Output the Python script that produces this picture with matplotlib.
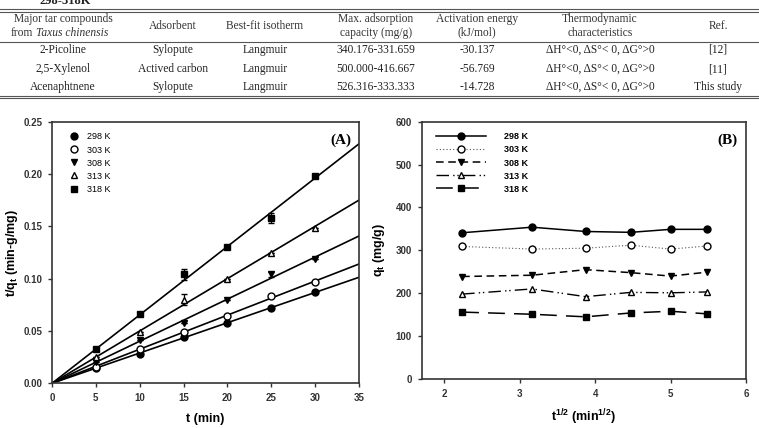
import numpy as np
import matplotlib.pyplot as plt
from matplotlib.lines import Line2D

plt.rcParams['mathtext.fontset'] = 'custom'
plt.rcParams['mathtext.rm'] = 'Liberation Sans:bold'
plt.rcParams['mathtext.default'] = 'rm'

# ---- table data ----
headers = ['Adsorbent', 'Best-fit isotherm',
           'Max. adsorption\ncapacity (mg/g)', 'Activation energy\n(kJ/mol)',
           'Thermodynamic\ncharacteristics', 'Ref.']
rows = [['2-Picoline', 'Sylopute', 'Langmuir', '340.176-331.659', '-30.137',
         'ΔH°<0, ΔS°< 0, ΔG°>0', '[12]'],
        ['2,5-Xylenol', 'Actived carbon', 'Langmuir', '500.000-416.667', '-56.769',
         'ΔH°<0, ΔS°< 0, ΔG°>0', '[11]'],
        ['Acenaphtnene', 'Sylopute', 'Langmuir', '526.316-333.333', '-14.728',
         'ΔH°<0, ΔS°< 0, ΔG°>0', 'This study']]
col_x = [63, 173, 265, 376, 477, 600, 718]

# ---- chart data ----
temps = ['298 K', '303 K', '308 K', '313 K', '318 K']
t = np.array([5, 10, 15, 20, 25, 30])
t_over_q = [
    [0.015, 0.028, 0.044, 0.058, 0.072, 0.087],
    [0.016, 0.033, 0.049, 0.064, 0.083, 0.097],
    [0.020, 0.041, 0.058, 0.080, 0.104, 0.119],
    [0.025, 0.049, 0.080, 0.100, 0.125, 0.148],
    [0.033, 0.066, 0.104, 0.130, 0.158, 0.198],
]
t_over_q_err = [
    [0, 0, 0, 0, 0, 0],
    [0, 0, 0, 0, 0, 0],
    [0, 0, 0, 0, 0.002, 0],
    [0, 0, 0.005, 0, 0, 0],
    [0, 0, 0.005, 0, 0.005, 0],
]
qt = [
    [341, 354, 344, 342, 349, 349],
    [309, 303, 305, 312, 303, 310],
    [239, 242, 255, 248, 240, 249],
    [198, 210, 192, 202, 201, 203],
    [156, 151, 145, 154, 158, 152],
]

markers = ['o', 'o', 'v', '^', 's']
faces = ['k', 'white', 'k', 'white', 'k']
styles = ['-', (0, (1, 2)), (0, (5, 3)), (0, (9, 3, 1, 2, 1, 3)), (0, (11, 6))]
widths = [1.1, 0.8, 1.1, 1.0, 1.1]

W, H = 759, 428
fig = plt.figure(figsize=(7.59, 4.28), dpi=100)

# ---- table ----
serif = ['Liberation Serif', 'DejaVu Serif']
fig.text(40 / W, 1 - 3.5 / H, '298-318K', family=serif, fontsize=9, fontweight='bold',
         ha='left', va='baseline', color='#222222')
for y in [9, 11.5, 41.5, 95.5, 98]:
    fig.add_artist(Line2D([0, 1], [1 - y / H, 1 - y / H], color='#555555', lw=0.8))
fig.text(63 / W, 1 - 19 / H, 'Major tar compounds', family=serif, fontsize=8.3,
         ha='center', va='center', color='#333333')
fig.text(11 / W, 1 - 33 / H, 'from', family=serif, fontsize=8.3, ha='left',
         va='center', color='#333333')
fig.text(36 / W, 1 - 33 / H, 'Taxus chinensis', family=serif, fontsize=8.3, ha='left',
         va='center', color='#333333', style='italic')
for x, h in zip(col_x[1:], headers):
    fig.text(x / W, 1 - 26 / H, h, family=serif, fontsize=8.3, ha='center', va='center',
             color='#333333', linespacing=1.15)
for yy, r in zip([50, 69, 87], rows):
    for x, c in zip(col_x, r):
        fig.text(x / W, 1 - yy / H, c, family=serif, fontsize=8.3, ha='center',
                 va='center', color='#222222')

sans = ['Liberation Sans Narrow', 'Liberation Sans', 'DejaVu Sans']

# ---- panel A ----
axA = fig.add_axes([52 / W, 1 - 383.3 / H, 307 / W, 261.6 / H])
tt = np.array([0, 35])
for i in range(5):
    y = np.array(t_over_q[i])
    slope = np.sum(t * y) / np.sum(t * t)
    axA.plot(tt, slope * tt, color='k', lw=1.2, zorder=2)
    axA.errorbar(t, y, yerr=t_over_q_err[i], fmt='none', ecolor='k', capsize=2.5,
                 elinewidth=0.9, zorder=3)
    axA.plot(t, y, ls='none', marker=markers[i], mfc=faces[i], mec='k', ms=5, mew=1.0,
             zorder=4, label=temps[i])
axA.set_xlim(0, 35)
axA.set_ylim(0, 0.25)
axA.set_xticks(range(0, 36, 5))
axA.set_yticks([0, 0.05, 0.10, 0.15, 0.20, 0.25])
axA.set_yticklabels(['0.00', '0.05', '0.10', '0.15', '0.20', '0.25'])
axA.set_xlabel('t (min)', family=sans, fontsize=9, fontweight='bold', labelpad=7)
axA.set_ylabel('t/q$_t$ (min-g/mg)', family=sans, fontsize=9, fontweight='bold',
               labelpad=2)
axA.text(0.975, 0.955, '(A)', transform=axA.transAxes, ha='right', va='top',
         family=serif, fontsize=11, fontweight='bold')
axA.legend(loc='upper left', bbox_to_anchor=(0.03, 0.99), frameon=False,
           handlelength=1.0, handletextpad=1.0, labelspacing=0.45,
           prop={'family': sans, 'size': 6.5})

# ---- panel B ----
axB = fig.add_axes([421.7 / W, 1 - 379 / H, 324.3 / W, 257.3 / H])
x_root = np.sqrt(t)
for i in range(5):
    axB.plot(x_root, qt[i], color='k' if i != 1 else '#555555', lw=widths[i],
             ls=styles[i], marker=markers[i], mfc=faces[i], mec='k', ms=5, mew=1.0,
             label=temps[i])
axB.set_xlim(1.7, 6)
axB.set_ylim(0, 600)
axB.set_xticks([2, 3, 4, 5, 6])
axB.set_yticks(range(0, 601, 100))
axB.set_xlabel('t$^{1/2}$ (min$^{1/2}$)', family=sans, fontsize=9, fontweight='bold',
               labelpad=6)
axB.set_ylabel('q$_t$ (mg/g)', family=sans, fontsize=9, fontweight='bold', labelpad=6)
axB.text(0.975, 0.955, '(B)', transform=axB.transAxes, ha='right', va='top',
         family=serif, fontsize=11, fontweight='bold')
axB.legend(loc='upper left', bbox_to_anchor=(0.02, 0.99), frameon=False,
           handlelength=5.5, handletextpad=2.0, labelspacing=0.45,
           prop={'family': sans, 'size': 6.5, 'weight': 'bold'})

for ax in (axA, axB):
    for s in ax.spines.values():
        s.set_color('#333333')
        s.set_linewidth(1.2)
    ax.tick_params(direction='out', length=3, width=1, colors='#333333',
                   labelsize=7, pad=4)
    for lab in ax.get_xticklabels() + ax.get_yticklabels():
        lab.set_family(sans)
        lab.set_fontweight('bold')

fig.savefig('out.png', dpi=100)
